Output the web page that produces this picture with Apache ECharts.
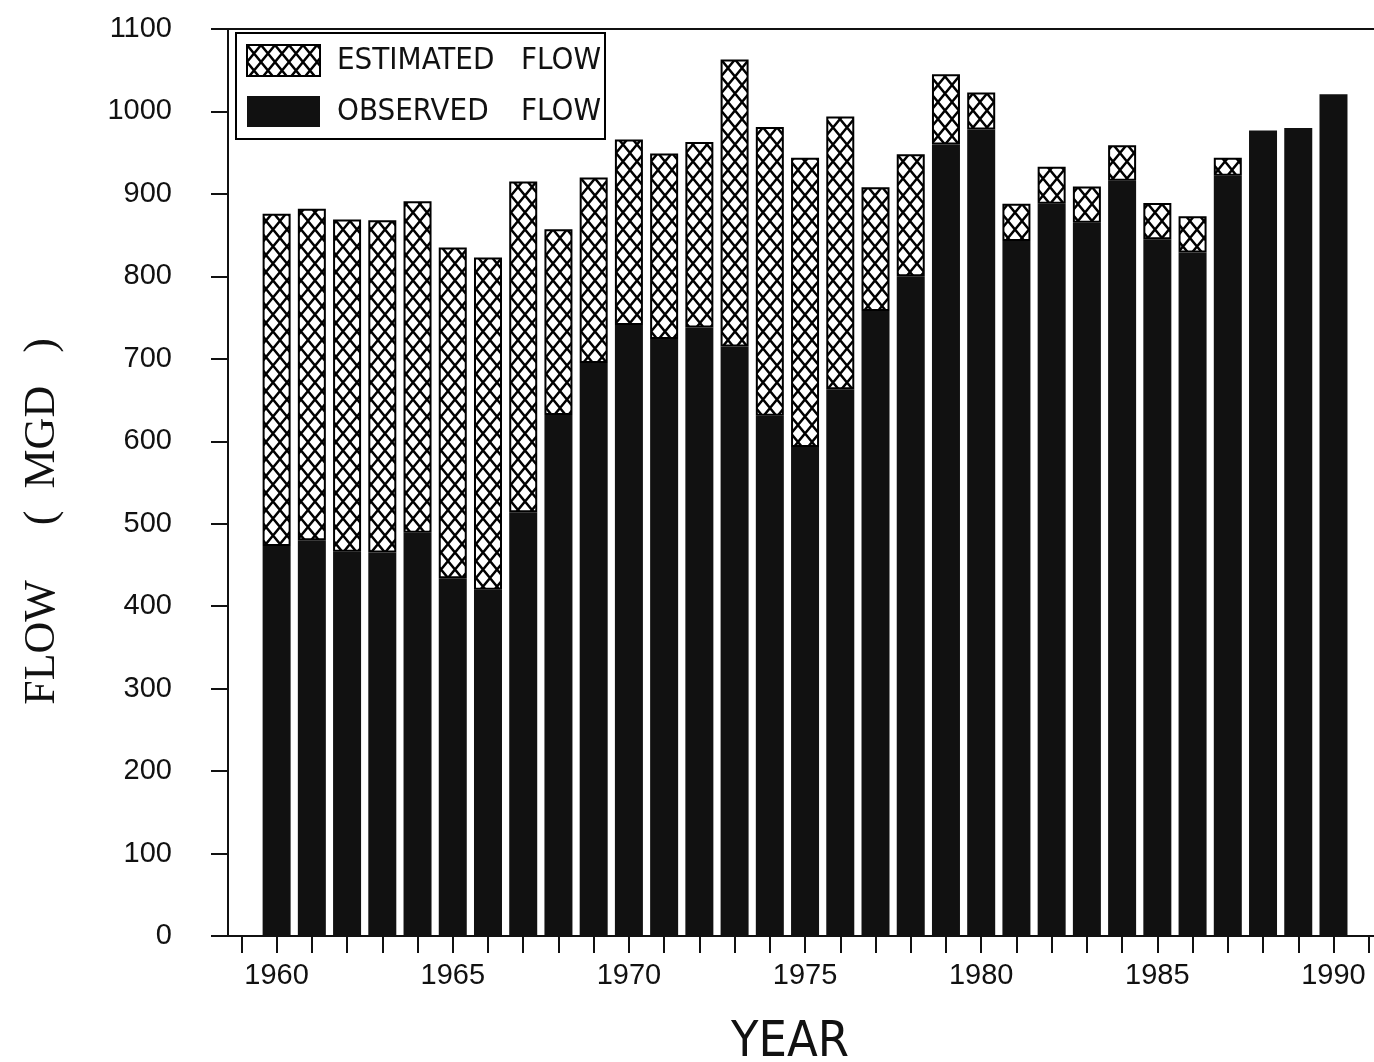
<!DOCTYPE html>
<html>
<head>
<meta charset="utf-8">
<script src="https://cdn.jsdelivr.net/npm/echarts@6/dist/echarts.min.js"></script>
<style>
  html, body { margin: 0; padding: 0; background: #fff; }
  #main { width: 1374px; height: 1062px; }
</style>
</head>
<body>
<div id="main"></div>
<script>
// data (MGD)
const years = [1960, 1961, 1962, 1963, 1964, 1965, 1966, 1967, 1968, 1969,
  1970, 1971, 1972, 1973, 1974, 1975, 1976, 1977, 1978, 1979,
  1980, 1981, 1982, 1983, 1984, 1985, 1986, 1987, 1988, 1989, 1990];
const observedFlow = [473, 480, 466, 465, 489, 434, 420, 514, 632, 695,
  741, 724, 738, 715, 631, 593, 663, 758, 800, 960,
  978, 843, 888, 865, 916, 845, 829, 922, 977, 980, 1021];
const estimatedFlow = [403, 402, 403, 403, 402, 401, 403, 401, 225, 225,
  225, 225, 225, 348, 350, 351, 331, 150, 148, 85,
  45, 45, 45, 44, 43, 44, 44, 22, 0, 0, 0];
const yearTicks = [1959, 1960, 1961, 1962, 1963, 1964, 1965, 1966, 1967, 1968, 1969,
  1970, 1971, 1972, 1973, 1974, 1975, 1976, 1977, 1978, 1979, 1980,
  1981, 1982, 1983, 1984, 1985, 1986, 1987, 1988, 1989, 1990, 1991];
const yearLabels = [1960, 1965, 1970, 1975, 1980, 1985, 1990];

// cross hatch fill for the estimated part
function hatch() {
  const c = document.createElement('canvas');
  c.width = 14; c.height = 17;
  const ctx = c.getContext('2d');
  ctx.fillStyle = '#fff';
  ctx.fillRect(0, 0, 14, 17);
  ctx.strokeStyle = '#000';
  ctx.lineWidth = 2.4;
  ctx.beginPath();
  ctx.moveTo(0, 0); ctx.lineTo(14, 17);
  ctx.moveTo(14, 0); ctx.lineTo(0, 17);
  ctx.stroke();
  return c;
}

const sans = 'Liberation Sans, Arial, sans-serif';
const narrow = 'Liberation Sans Narrow, DejaVu Sans Condensed, Arial Narrow, sans-serif';
const xMin = 1958.62, xMax = 1991.15;
const plain = v => String(v);

const myChart = echarts.init(document.getElementById('main'));
const option = {
  backgroundColor: '#fff',
  animation: false,
  grid: { left: 228, right: 0, top: 29, bottom: 126, outerBoundsMode: 'none' },
  legend: {
    orient: 'vertical',
    left: 236,
    top: 33,
    padding: [11, 4, 12, 10],
    itemGap: 19,
    itemWidth: 73,
    itemHeight: 31,
    borderColor: '#000',
    borderWidth: 2,
    icon: 'rect',
    data: ['ESTIMATED FLOW', 'OBSERVED FLOW'],
    formatter: function (name) {
      const parts = name.split(' ');
      return '{a|' + parts[0] + '}{b|' + parts[1] + '}';
    },
    textStyle: {
      padding: [0, 0, 0, 12],
      rich: {
        a: { fontFamily: narrow, fontSize: 31, color: '#111', width: 184 },
        b: { fontFamily: narrow, fontSize: 31, color: '#111' }
      }
    }
  },
  xAxis: [
    {
      type: 'value',
      min: xMin,
      max: xMax,
      name: 'YEAR',
      nameLocation: 'middle',
      nameGap: 82,
      nameTextStyle: { fontFamily: narrow, fontSize: 50, color: '#111', padding: [0, 22, 0, 0] },
      splitLine: { show: false },
      axisLine: { show: true, onZero: false, lineStyle: { color: '#111', width: 2 } },
      axisTick: { show: true, length: 17, customValues: yearTicks, lineStyle: { color: '#111', width: 2 } },
      axisLabel: { customValues: yearLabels, formatter: plain, margin: 25, fontFamily: sans, fontSize: 29, color: '#111' }
    },
    {
      type: 'value',
      position: 'top',
      min: xMin,
      max: xMax,
      splitLine: { show: false },
      axisLine: { show: true, onZero: false, lineStyle: { color: '#111', width: 2 } },
      axisTick: { show: false },
      axisLabel: { show: false }
    }
  ],
  yAxis: {
    type: 'value',
    min: 0,
    max: 1100,
    interval: 100,
    name: 'FLOW     (  MGD   )',
    nameLocation: 'middle',
    nameRotate: 90,
    nameGap: 164,
    nameTextStyle: { fontFamily: 'Liberation Serif, Times New Roman, serif', fontSize: 44, color: '#111', padding: [0, 78, 0, 0] },
    splitLine: { show: false },
    axisLine: { show: true, lineStyle: { color: '#111', width: 2 } },
    axisTick: { show: true, length: 17, lineStyle: { color: '#111', width: 2 } },
    axisLabel: { formatter: plain, margin: 56, fontFamily: sans, fontSize: 29, color: '#111' }
  },
  series: [
    {
      name: 'OBSERVED FLOW',
      type: 'bar',
      stack: 'flow',
      barWidth: 28,
      itemStyle: { color: '#111' },
      // value first so the stack runs on the value dimension
      encode: { x: 1, y: 0 },
      data: years.map((y, i) => [observedFlow[i], y])
    },
    {
      name: 'ESTIMATED FLOW',
      type: 'bar',
      stack: 'flow',
      barWidth: 28,
      itemStyle: {
        color: { image: hatch(), repeat: 'repeat' },
        borderColor: '#000',
        borderWidth: 2
      },
      encode: { x: 1, y: 0 },
      data: years.map((y, i) => [estimatedFlow[i] > 0 ? estimatedFlow[i] : '-', y])
    }
  ]
};
option && myChart.setOption(option);
</script>
</body>
</html>
